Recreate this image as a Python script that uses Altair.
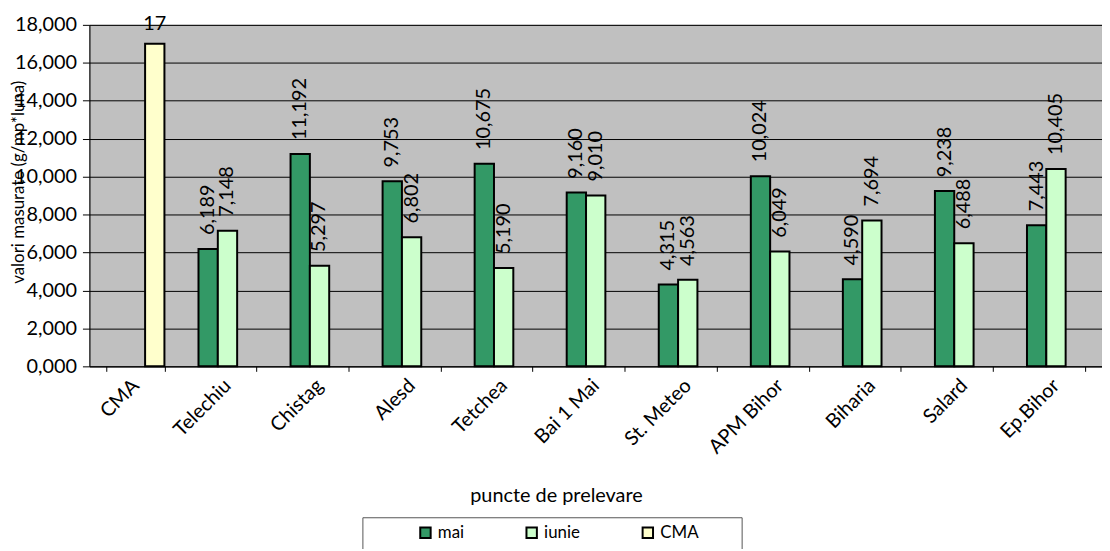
import altair as alt
import pandas as pd

categories = ["CMA", "Telechiu", "Chistag", "Alesd", "Tetchea", "Bai 1 Mai",
              "St. Meteo", "APM Bihor", "Biharia", "Salard", "Ep.Bihor"]
series = ["mai", "iunie", "CMA"]
mai = [None, 6.189, 11.192, 9.753, 10.675, 9.160, 4.315, 10.024, 4.590, 9.238, 7.443]
iunie = [None, 7.148, 5.297, 6.802, 5.190, 9.010, 4.563, 6.049, 7.694, 6.488, 10.405]
cma = [17, None, None, None, None, None, None, None, None, None, None]
colors = ["#339966", "#CCFFCC", "#FFFFCC"]

rows = []
for s, vals in zip(series, [mai, iunie, cma]):
    for c, v in zip(categories, vals):
        if v is None:
            continue
        lab = "17" if s == "CMA" else f"{v:.3f}".replace(".", ",")
        rows.append({"cat": c, "series": s, "v": v, "lab": lab})
df = pd.DataFrame(rows)

FONT = "Lato"
PAD = "\u2800" * 3

base = alt.Chart(df).encode(
    x=alt.X("cat:N", sort=categories, title="puncte de prelevare",
            scale=alt.Scale(paddingInner=0.37, paddingOuter=0.185),
            axis=alt.Axis(labelAngle=-45, labelAlign="right", labelBaseline="middle",
                          tickBand="extent", tickSize=5, tickColor="black",
                          domainColor="black", labelColor="black", labelFontSize=20,
                          labelPadding=11, titleFontSize=20, titleFontWeight="normal",
                          titleX=470, titleY=120, titleColor="black")),
    xOffset=alt.XOffset("series:N", sort=series,
                        scale=alt.Scale(domain=series, paddingInner=0, paddingOuter=0)),
    y=alt.Y("v:Q", title="valori masurate (g/mp*luna)",
            scale=alt.Scale(domain=[0, 18], nice=False),
            axis=alt.Axis(values=list(range(0, 19, 2)),
                          labelExpr="replace(format(datum.value, '.3f'), '.', ',')",
                          gridColor="black", gridWidth=1, tickColor="black", tickSize=7,
                          domainColor="black", labelColor="black", labelFontSize=20,
                          labelPadding=6,
                          titleFontSize=17, titleFontWeight="normal", titleColor="black",
                          titleX=-71, titleY=158, titleAngle=-90,
                          titleAlign="center", titleBaseline="middle")),
)

bars = base.mark_bar(stroke="black", strokeWidth=2).encode(
    color=alt.Color("series:N", sort=series,
                    scale=alt.Scale(domain=series, range=colors),
                    legend=alt.Legend(title=" ", titleOrient="left", titlePadding=48,
                                      orient="none", legendX=275, legendY=496,
                                      direction="horizontal", columns=3,
                                      columnPadding=58, padding=7,
                                      strokeColor="#555555", fillColor="white",
                                      symbolType="square", symbolSize=110,
                                      symbolStrokeColor="black", symbolStrokeWidth=2,
                                      symbolOpacity=1, labelFontSize=17,
                                      labelColor="black", labelOffset=4,
                                      labelExpr="datum.label == 'CMA' ? 'CMA" + PAD + "' : datum.label"))
)

vlabels = base.transform_filter(alt.datum.series != "CMA").mark_text(
    angle=270, align="left", baseline="middle", dx=14, fontSize=20, color="black"
).encode(text="lab:N")

clabels = base.transform_filter(alt.datum.series == "CMA").mark_text(
    align="center", baseline="alphabetic", dy=-14, fontSize=20, color="black"
).encode(text="lab:N")

chart = alt.layer(bars, vlabels, clabels).properties(
    width=1020, height=344,
    autosize=alt.AutoSizeParams(type="none"),
    padding={"left": 82, "top": 15, "right": 0, "bottom": 182},
).configure(font=FONT).configure_view(fill="#C0C0C0", stroke="#808080")

chart.save("out.html", embed_options={"renderer": "svg", "actions": False})
